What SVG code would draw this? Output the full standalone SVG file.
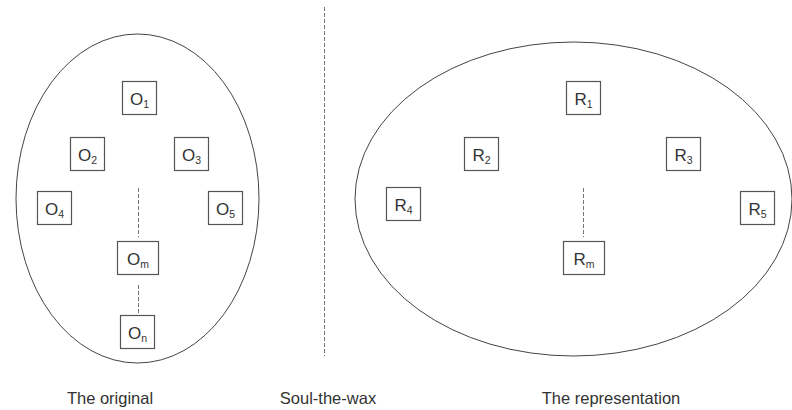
<svg xmlns="http://www.w3.org/2000/svg" width="792" height="410" viewBox="0 0 792 410">
  <style>
    .bg { fill: #ffffff; }
    .set { fill: none; stroke: #444; stroke-width: 1; }
    .box { fill: #ffffff; stroke: #555; stroke-width: 1.2; }
    .lbl { font-family: "Liberation Sans", Arial, sans-serif; font-size: 17px; fill: #333; text-anchor: middle; }
    .sub { font-size: 10.5px; }
    .dash { stroke: #777; stroke-width: 1; stroke-dasharray: 4 2; fill: none; }
    .cap { font-family: "Liberation Sans", Arial, sans-serif; font-size: 16.5px; fill: #333; text-anchor: middle; }
  </style>
  <rect class="bg" x="0" y="0" width="792" height="410"/>

  <!-- the two sets -->
  <ellipse class="set" cx="137.5" cy="198.5" rx="121.5" ry="164.5"/>
  <ellipse class="set" cx="573.5" cy="199" rx="218.5" ry="157"/>

  <!-- dashed links and separator -->
  <g id="connectors">
    <line class="dash" x1="324.5" y1="7" x2="324.5" y2="356"/>
    <line class="dash" x1="138.5" y1="188" x2="138.5" y2="237"/>
    <line class="dash" x1="138.5" y1="285" x2="138.5" y2="314"/>
    <line class="dash" x1="583.5" y1="188" x2="583.5" y2="237"/>
  </g>

  <!-- left set: the original -->
  <g id="O1"><rect class="box" x="122.5" y="81.5" width="34" height="33"/><text class="lbl" x="139.5" y="104.5">O<tspan class="sub" dy="3">1</tspan></text></g>
  <g id="O2"><rect class="box" x="70.5" y="137.5" width="34" height="33"/><text class="lbl" x="87.5" y="160.5">O<tspan class="sub" dy="3">2</tspan></text></g>
  <g id="O3"><rect class="box" x="174.5" y="137.5" width="34" height="33"/><text class="lbl" x="191.5" y="160.5">O<tspan class="sub" dy="3">3</tspan></text></g>
  <g id="O4"><rect class="box" x="37.5" y="191.5" width="34" height="33"/><text class="lbl" x="54.5" y="214.5">O<tspan class="sub" dy="3">4</tspan></text></g>
  <g id="O5"><rect class="box" x="208.5" y="191.5" width="34" height="33"/><text class="lbl" x="225.5" y="214.5">O<tspan class="sub" dy="3">5</tspan></text></g>
  <g id="Om"><rect class="box" x="117.5" y="241.5" width="41" height="33"/><text class="lbl" x="138" y="264.5">O<tspan class="sub" dy="3">m</tspan></text></g>
  <g id="On"><rect class="box" x="120.5" y="315.5" width="34" height="33"/><text class="lbl" x="137.5" y="338.5">O<tspan class="sub" dy="3">n</tspan></text></g>

  <!-- right set: the representation -->
  <g id="R1"><rect class="box" x="566.5" y="81.5" width="34" height="33"/><text class="lbl" x="583.5" y="104.5">R<tspan class="sub" dy="3">1</tspan></text></g>
  <g id="R2"><rect class="box" x="464.5" y="137.5" width="34" height="33"/><text class="lbl" x="481.5" y="160.5">R<tspan class="sub" dy="3">2</tspan></text></g>
  <g id="R3"><rect class="box" x="666.5" y="137.5" width="34" height="33"/><text class="lbl" x="683.5" y="160.5">R<tspan class="sub" dy="3">3</tspan></text></g>
  <g id="R4"><rect class="box" x="386.5" y="187.5" width="34" height="33"/><text class="lbl" x="403.5" y="210.5">R<tspan class="sub" dy="3">4</tspan></text></g>
  <g id="R5"><rect class="box" x="740.5" y="191.5" width="34" height="33"/><text class="lbl" x="757.5" y="214.5">R<tspan class="sub" dy="3">5</tspan></text></g>
  <g id="Rm"><rect class="box" x="563.5" y="241.5" width="41" height="33"/><text class="lbl" x="584" y="264.5">R<tspan class="sub" dy="3">m</tspan></text></g>

  <!-- captions -->
  <text class="cap" x="110" y="404">The original</text>
  <text class="cap" x="328" y="404">Soul-the-wax</text>
  <text class="cap" x="611" y="404">The representation</text>
</svg>
